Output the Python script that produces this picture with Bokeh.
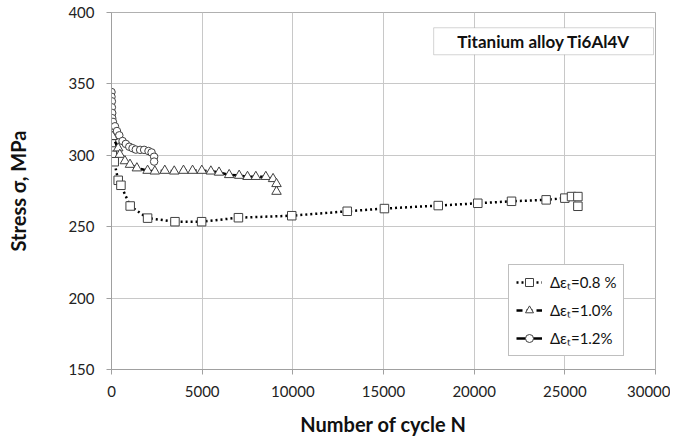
from bokeh.plotting import figure
from bokeh.models import Range1d, SingleIntervalTicker, Legend, LegendItem, Label, BoxAnnotation
from bokeh.embed import file_html
from bokeh.resources import INLINE

# ---- data ----
n_08 = [0, 20, 40, 150, 370, 520, 1030, 1990, 3500, 4970, 7000, 9940, 13000, 15050,
        18020, 20200, 22060, 23970, 25000, 25370, 25720, 25720]
s_08 = [308, 303, 300, 295.5, 282.5, 279, 264.5, 256, 253.5, 253.5, 256.3, 257.7, 260.8, 262.7,
        264.8, 266.4, 267.8, 268.8, 270, 271.1, 271.1, 264.3]

n_10 = [10, 60, 370, 460, 740, 1020, 1400, 1990, 2390, 2940, 3460, 3970, 4470, 4980,
        5480, 5930, 6490, 7040, 7500, 7960, 8510, 8910, 9100, 9100]
s_10 = [316, 313, 305, 300.5, 296, 293.5, 291, 289.3, 288.8, 289.3, 288.8, 289.3, 289.3, 289.3,
        288.8, 288, 286.3, 285.8, 285, 285, 285, 283.5, 280, 274.6]

n_12 = [0, 0, 20, 20, 40, 40, 80, 190, 300, 430, 610, 790, 980, 1160, 1340, 1580, 1800,
        2040, 2210, 2350, 2350]
s_12 = [344.3, 341, 337.8, 333.6, 329.6, 326, 323.4, 320.3, 317, 314, 310, 308, 306, 305,
        304, 303.8, 303.8, 303, 302, 299, 295.6]

labels = ["Δεₜ=0.8 %", "Δεₜ=1.0%", "Δεₜ=1.2%"]
title_text = "Titanium alloy Ti6Al4V"
x_label = "Number of cycle N"
y_label = "Stress σ, MPa"

FONT = "Lato"

p = figure(output_backend="svg", toolbar_location=None,
           frame_width=544, frame_height=357,
           min_border_left=111, min_border_right=15, min_border_top=12, min_border_bottom=60,
           x_range=Range1d(0, 30000), y_range=Range1d(150, 400))

p.background_fill_color = "white"
p.border_fill_color = "white"
p.outline_line_color = "#b0b0b0"

p.xaxis.ticker = SingleIntervalTicker(interval=5000)
p.yaxis.ticker = SingleIntervalTicker(interval=50)
for ax in (p.xaxis[0], p.yaxis[0]):
    ax.axis_line_color = "#a0a0a0"
    ax.major_tick_line_color = "#a0a0a0"
    ax.major_tick_out = 5
    ax.major_tick_in = 0
    ax.minor_tick_line_color = None
    ax.major_label_text_font = FONT
    ax.major_label_text_font_size = "15px"
    ax.major_label_text_color = "#222222"
    ax.axis_label_text_font = FONT
    ax.axis_label_text_font_style = "bold"
    ax.axis_label_text_font_size = "20px"
    ax.axis_label_text_color = "#111111"
p.xaxis.axis_label = x_label
p.yaxis.axis_label = y_label
p.xaxis.major_label_standoff = 11
p.yaxis.major_label_standoff = 12
p.xaxis.axis_label_standoff = 12
p.yaxis.axis_label_standoff = 35

p.xgrid.grid_line_color = "#c8c8c8"
p.ygrid.grid_line_color = "#c8c8c8"

mk_line = "#404040"

l08 = p.line(n_08, s_08, line_color="black", line_width=2.5, line_dash="2 3")
m08 = p.scatter(n_08, s_08, marker="square", size=8.5, fill_color="white", line_color=mk_line, line_width=1)

l10 = p.line(n_10, s_10, line_color="black", line_width=2.5, line_dash="6 4")
m10 = p.scatter(n_10, s_10, marker="triangle", size=9.5, fill_color="white", line_color=mk_line, line_width=1)

l12 = p.line(n_12, s_12, line_color="black", line_width=2.5)
m12 = p.scatter(n_12, s_12, marker="circle", size=7.5, fill_color="white", line_color=mk_line, line_width=1)

legend = Legend(items=[LegendItem(label=labels[0], renderers=[l08, m08]),
                       LegendItem(label=labels[1], renderers=[l10, m10]),
                       LegendItem(label=labels[2], renderers=[l12, m12])],
                location=(397, 13), orientation="vertical",
                label_text_font=FONT, label_text_font_size="15px", label_text_color="#111111",
                glyph_width=26, glyph_height=20, label_height=20, spacing=8,
                padding=7, margin=0, label_standoff=8,
                border_line_color="#808080", border_line_width=1,
                background_fill_color="white", background_fill_alpha=1.0)
p.add_layout(legend, "center")

box = BoxAnnotation(left=17766, right=29890, top=389.3, bottom=370.4,
                    fill_color="white", fill_alpha=1.0, line_color="#707070", line_width=1)
p.add_layout(box)
title = Label(x=23828, y=379.9, text=title_text, text_align="center", text_baseline="middle",
              text_font=FONT, text_font_style="bold", text_font_size="17px", text_color="#111111",
              level="overlay")
p.add_layout(title)

open("out.html", "w").write(file_html(p, INLINE))
